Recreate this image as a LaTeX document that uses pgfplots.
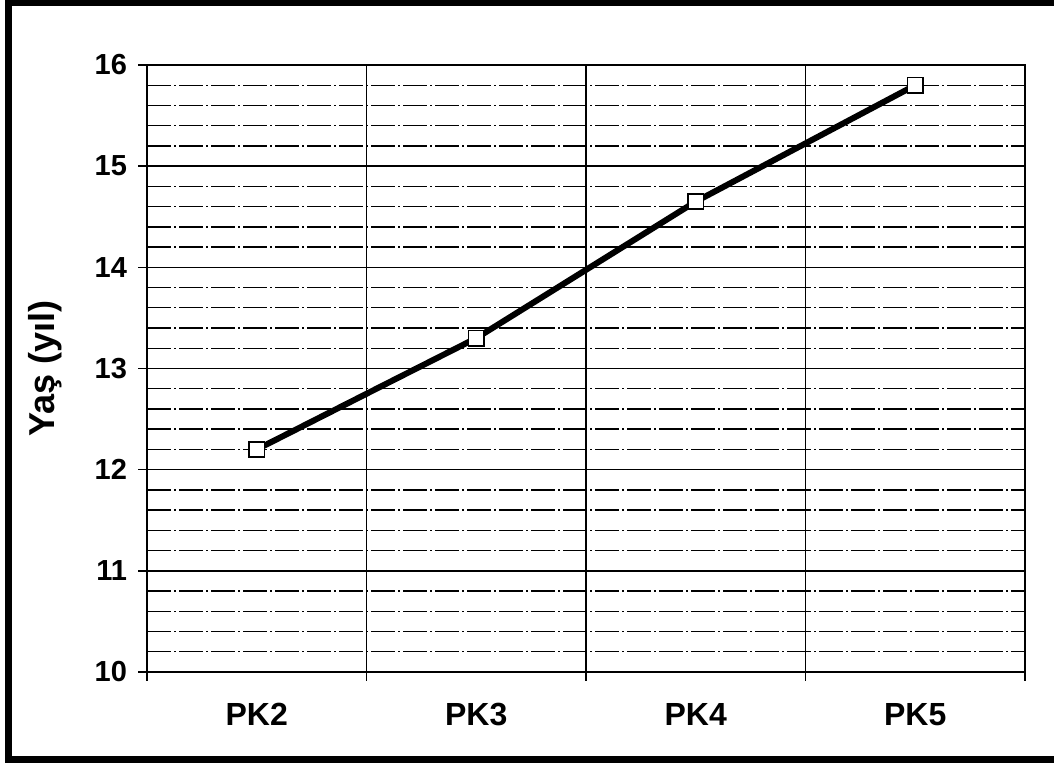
\documentclass[border=0pt]{standalone}
\usepackage{pgfplots}
\pgfplotsset{compat=1.18}
\usepackage{fontspec}
\setmainfont{Liberation Sans}
\begin{document}
\begin{tikzpicture}
\useasboundingbox (0,0) rectangle (527pt,382pt);
\draw[line width=3.5pt, black] (527pt,380.5pt) -- (4pt,380.5pt) -- (4pt,2pt) -- (527pt,2pt);
\begin{axis}[
  at={(73.5pt,46pt)}, anchor=south west,
  scale only axis, width=439pt, height=303.5pt,
  xmin=-0.5, xmax=3.5, ymin=10, ymax=16,
  xtick={-0.5,0.5,1.5,2.5,3.5}, xticklabels={},
  extra x ticks={0,1,2,3}, extra x tick labels={PK2,PK3,PK4,PK5},
  extra x tick style={major tick length=0pt, grid=none, xticklabel style={yshift=-12pt}},
  ytick={10,11,12,13,14,15,16},
  minor y tick num=4,
  tick pos=left,
  xmajorgrids, ymajorgrids, yminorgrids,
  major grid style={black, line width=0.7pt},
  minor grid style={black, line width=0.7pt, dash pattern=on 12pt off 1.5pt on 1pt off 1.5pt},
  tick align=outside, major tick length=4.5pt, minor tick length=0pt,
  tick style={black, line width=0.8pt},
  axis line style={line width=1pt},
  tick label style={font=\bfseries\fontsize{14.5}{16}\selectfont},
  xticklabel style={font=\bfseries\fontsize{16}{18}\selectfont},
  yticklabel style={xshift=-2pt},
  /pgf/number format/assume math mode=true,
  ylabel={\bfseries Yaş (yıl)},
  every axis y label/.style={at={(axis description cs:0,0.5)}, xshift=-51pt, rotate=90, anchor=center,
    font=\bfseries\fontsize{18}{20}\selectfont},
  clip=false,
]
\addplot[black, line width=3pt, mark=square*, mark size=3.8pt,
  mark options={fill=white, line width=0.8pt}]
  coordinates {(0,12.2) (1,13.3) (2,14.65) (3,15.8)};
\end{axis}
\end{tikzpicture}
\end{document}
